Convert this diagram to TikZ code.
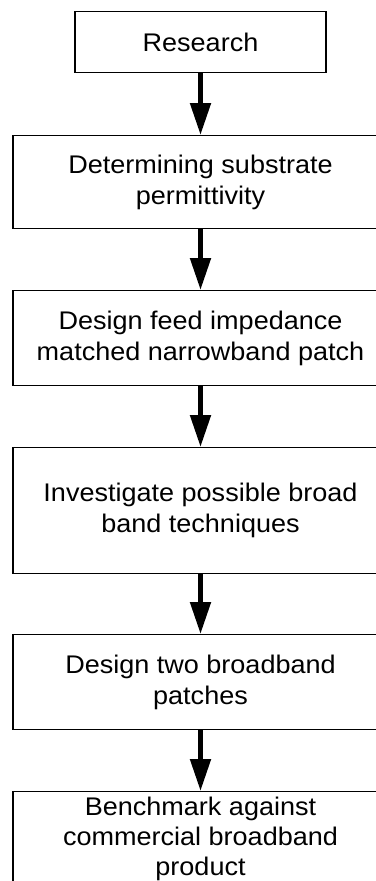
\documentclass[tikz,border=0pt]{standalone}
\usepackage{fontspec}
\setmainfont{Liberation Sans}[FakeStretch=1.06]
\usetikzlibrary{arrows.meta}
\begin{document}
\begin{tikzpicture}[x=1pt,y=-1pt,
  stepbox/.style={draw=black, line width=1.2pt, rectangle, inner sep=0pt,
    minimum width=375pt, align=center, anchor=north,
    font=\fontsize{25.5}{31}\selectfont},
  flow/.style={line width=5pt, -{Triangle[width=20pt,length=32pt]}}]
\useasboundingbox (0,0) rectangle (375,881);
\node[stepbox, minimum width=251pt, minimum height=61pt] (n1) at (200.5,11) {Research};
\node[stepbox, minimum height=93pt] (n2) at (200.5,135) {Determining substrate\\permittivity};
\node[stepbox, minimum height=95pt] (n3) at (200.5,290) {Design feed impedance\\matched narrowband patch};
\node[stepbox, minimum height=126pt] (n4) at (200.5,447) {Investigate possible broad\\band techniques};
\node[stepbox, minimum height=95pt] (n5) at (200.5,634) {Design two broadband\\patches};
\node[stepbox, minimum height=95pt, font=\fontsize{25.5}{30}\selectfont] (n6) at (200.5,791) {Benchmark against\\commercial broadband\\product};
\draw[flow] (n1.south) -- (n2.north);
\draw[flow] (n2.south) -- (n3.north);
\draw[flow] (n3.south) -- (n4.north);
\draw[flow] (n4.south) -- (n5.north);
\draw[flow] (n5.south) -- (n6.north);
\end{tikzpicture}
\end{document}
